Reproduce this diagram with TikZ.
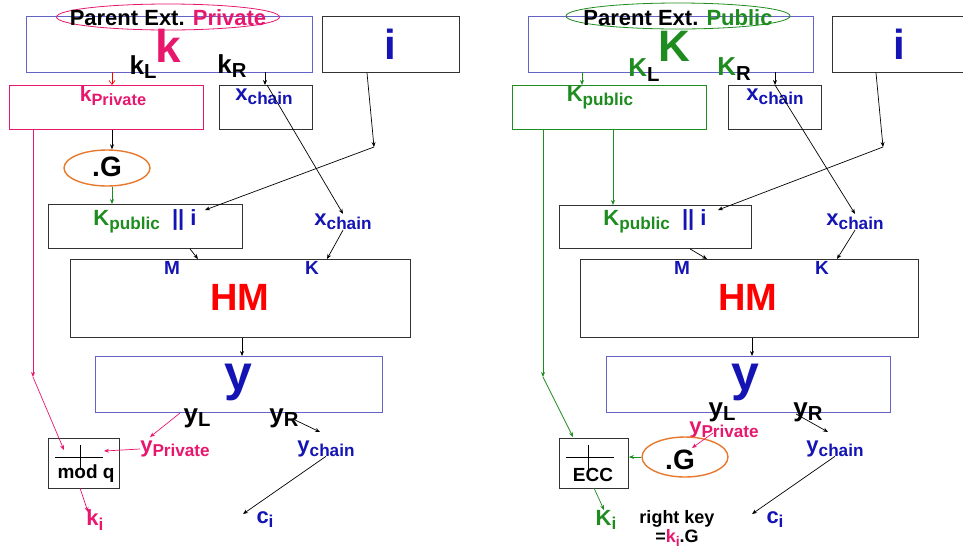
\documentclass[tikz,border=0pt]{standalone}
\usepackage{fontspec}
\setmainfont{Liberation Sans}
\usetikzlibrary{arrows.meta,shapes.geometric}
\definecolor{pk}{RGB}{232,23,110}
\definecolor{gr}{RGB}{30,140,30}
\definecolor{bl}{RGB}{20,20,180}
\definecolor{sb}{RGB}{100,100,200}
\definecolor{orng}{RGB}{232,120,45}
\definecolor{dg}{RGB}{50,50,50}
\newcommand\lowsub[1]{\raisebox{-0.35ex}{\scalebox{0.78}{#1}}}
\tikzset{
  lbl/.style={inner sep=0pt, font=\bfseries\fontsize{#1}{#1}\selectfont},
  bx/.style={draw=dg, line width=0.9pt, inner sep=0pt, anchor=north west},
  arr/.style={-{Stealth[length=5pt,width=4pt]}, line width=0.7pt},
}
\begin{document}
\begin{tikzpicture}[x=1pt,y=-1pt]
\fill[white] (0,0) rectangle (963,550);
\useasboundingbox (0,0) rectangle (963,550);

% ================= LEFT PANEL =================
\node[bx, draw=sb, minimum width=286pt, minimum height=56pt] (Lpar) at (26,16) {};
\node[ellipse, draw=pk, line width=0.8pt, minimum width=223pt, minimum height=26pt, inner sep=0pt] (Lell) at (168,17) {};
\node[lbl=22] (Lpart) at (168,18) {Parent Ext. \textcolor{pk}{Private}};
\node[lbl=46, text=pk] (Lk) at (168,46) {k};
\node[lbl=26] (LkL) at (143,67) {k\lowsub{L}};
\node[lbl=26] (LkR) at (232,66) {k\lowsub{R}};
\node[bx, minimum width=137pt, minimum height=56pt] (Libox) at (322,16) {};
\node[lbl=42, text=bl] (Li) at (390,44) {i};
\node[bx, draw=pk, minimum width=194pt, minimum height=44pt] (Lkpriv) at (9,85) {};
\node[lbl=21, text=pk] (Lkprivt) at (113,96) {k\lowsub{Private}};
\node[bx, minimum width=93pt, minimum height=44pt] (Lxc) at (219,85) {};
\node[lbl=22, text=bl] (Lxct) at (264,97) {x\lowsub{chain}};
\node[ellipse, draw=orng, line width=1.4pt, minimum width=86pt, minimum height=36pt, inner sep=0pt] (LG) at (107,168) {};
\node[lbl=28] (LGt) at (107,167) {.G};
\node[bx, minimum width=194pt, minimum height=44pt] (Lcat) at (48,204) {};
\node[lbl=22] (Lcatt) at (145,221) {\textcolor{gr}{K\lowsub{public}}\ \ \textcolor{bl}{|| i}};
\node[lbl=22, text=bl] (Lxc2) at (343,222) {x\lowsub{chain}};
\node[bx, minimum width=340pt, minimum height=78pt] (LHM) at (70,259) {};
\node[lbl=19, text=bl] (LM) at (172,268) {M};
\node[lbl=19, text=bl] (LK) at (312,268) {K};
\node[lbl=38, text=red] (LHMt) at (240,297) {HM};
\node[bx, draw=sb, minimum width=287pt, minimum height=56pt] (Ly) at (95,356) {};
\node[lbl=50, text=bl] (Lyt) at (238,382) {y};
\node[lbl=26] (LyL) at (197,418) {y\lowsub{L}};
\node[lbl=26] (LyR) at (284,418) {y\lowsub{R}};
\node[lbl=22, text=pk] (Lypriv) at (175,449) {y\lowsub{Private}};
\node[lbl=22, text=bl] (Lych) at (326,449) {y\lowsub{chain}};
\node[bx, minimum width=71pt, minimum height=50pt] (Lmod) at (48,438) {};
\node[lbl=19] (Lmodt) at (86,474) {mod q};
\node[lbl=22, text=pk] (Lki) at (95,520) {k\lowsub{i}};
\node[lbl=22, text=bl] (Lci) at (265,520) {c\lowsub{i}};
\draw[line width=0.8pt] (55,457) -- (103,457) (80,445) -- (80,470);

\coordinate (Lp1) at (33,377);
\coordinate (Li1) at (374,147);
\draw[arr, red, -{Straight Barb[length=4pt,width=6pt]}] (112,72) -- (Lkpriv.north -| 112,0);
\draw[arr] (265,72) -- (Lxc.north -| 265,0);
\draw[arr] (267,85) -- (Lxc2.north);
\draw[arr] (Libox.south -| 367,0) -- (Li1);
\draw[arr] (Li1) -- (205,210);
\draw[arr] (Lkpriv.south -| 112,0) -- (LG.north -| 112,0);
\draw[arr, gr] (LG.south -| 112,0) -- (Lcat.north -| 112,0);
\draw[arr, pk] (Lkpriv.south -| 33,0) -- (Lp1);
\draw[arr, pk] (Lp1) -- (64,450);
\draw[arr] (Lxc2.south) -- (327,259);
\draw[arr] (Lcat.south -| 190,0) -- (198,259);
\draw[arr] (LHM.south -| 242,0) -- (Ly.north -| 242,0);
\draw[arr, pk] (180,413) -- (150,437);
\draw[arr] (293,419) -- (320,432);
\draw[arr, pk] (Lypriv.west) -- (104,451);
\draw[arr] (Lych.south) ++(0,-1) -- (243,514);
\draw[arr, pk] (80,488) -- (88,512);

% ================= RIGHT PANEL =================
\node[bx, draw=sb, minimum width=285pt, minimum height=56pt] (Rpar) at (528,16) {};
\node[ellipse, draw=gr, line width=0.8pt, minimum width=224pt, minimum height=26pt, inner sep=0pt] (Rell) at (678,16) {};
\node[lbl=22] (Rpart) at (678,18) {Parent Ext. \textcolor{gr}{Public}};
\node[lbl=44, text=gr] (RK) at (674,46) {K};
\node[lbl=26] (RKL) at (644,70) {\textcolor{gr}{K}\lowsub{L}};
\node[lbl=26] (RKR) at (734,69) {\textcolor{gr}{K}\lowsub{R}};
\node[bx, minimum width=131pt, minimum height=56pt] (Ribox) at (832,16) {};
\node[lbl=42, text=bl] (Ri) at (899,44) {i};
\node[bx, draw=gr, minimum width=194pt, minimum height=44pt] (Rkpub) at (512,85) {};
\node[lbl=22, text=gr] (Rkpubt) at (600,98) {K\lowsub{public}};
\node[bx, minimum width=93pt, minimum height=44pt] (Rxc) at (728,85) {};
\node[lbl=22, text=bl] (Rxct) at (775,97) {x\lowsub{chain}};
\node[bx, minimum width=192pt, minimum height=43pt] (Rcat) at (559,205) {};
\node[lbl=22] (Rcatt) at (655,221) {\textcolor{gr}{K\lowsub{public}}\ \ \textcolor{bl}{|| i}};
\node[lbl=22, text=bl] (Rxc2) at (855,222) {x\lowsub{chain}};
\node[bx, minimum width=338pt, minimum height=78pt] (RHM) at (580,259) {};
\node[lbl=19, text=bl] (RM) at (682,268) {M};
\node[lbl=19, text=bl] (RKk) at (822,268) {K};
\node[lbl=38, text=red] (RHMt) at (748,297) {HM};
\node[bx, draw=sb, minimum width=284pt, minimum height=56pt] (Ry) at (606,356) {};
\node[lbl=50, text=bl] (Ryt) at (745,382) {y};
\node[lbl=26] (RyL) at (722,412) {y\lowsub{L}};
\node[lbl=26] (RyR) at (808,412) {y\lowsub{R}};
\node[lbl=22, text=pk] (Rypriv) at (724,430) {y\lowsub{Private}};
\node[lbl=22, text=bl] (Rych) at (835,449) {y\lowsub{chain}};
\node[ellipse, draw=orng, line width=1.4pt, minimum width=86pt, minimum height=40pt, inner sep=0pt] (RG) at (685,457) {};
\node[lbl=28] (RGt) at (680,460) {.G};
\node[bx, minimum width=69pt, minimum height=50pt] (Recc) at (559,438) {};
\node[lbl=19] (Recct) at (593,475) {ECC};
\draw[line width=0.8pt] (566,457) -- (614,457) (588,445) -- (588,470);
\node[lbl=22, text=gr] (RKi) at (606,520) {K\lowsub{i}};
\node[lbl=18] (Rrk) at (677,519) {right key};
\node[lbl=18] (Rrk2) at (677,538) {=\textcolor{pk}{k\lowsub{i}}.G};
\node[lbl=22, text=bl] (Rci) at (775,520) {c\lowsub{i}};

\coordinate (Rp1) at (543,377);
\coordinate (Ri1) at (883,147);
\draw[arr, gr] (582,72) -- (Rkpub.north -| 582,0);
\draw[arr] (775,72) -- (Rxc.north -| 775,0);
\draw[arr] (775,85) -- (Rxc2.north);
\draw[arr] (Ribox.south -| 876,0) -- (Ri1);
\draw[arr] (Ri1) -- (718,210);
\draw[arr, gr] (Rkpub.south -| 613,0) -- (Rcat.north -| 613,0);
\draw[arr, gr] (Rkpub.south -| 543,0) -- (Rp1);
\draw[arr, gr] (Rp1) -- (573,437);
\draw[arr] (Rxc2.south) -- (837,259);
\draw[arr] (Rcat.south -| 690,0) -- (707,259);
\draw[arr] (RHM.south -| 752,0) -- (Ry.north -| 752,0);
\draw[arr, pk] (713,433) -- (692,448);
\draw[arr] (796,414) -- (828,432);
\draw[arr, gr] (RG.west) -- (Recc.east |- RG.west);
\draw[arr] (Rych.south) ++(0,-1) -- (752,514);
\draw[arr, gr] (594,488) -- (604,510);
\end{tikzpicture}
\end{document}
